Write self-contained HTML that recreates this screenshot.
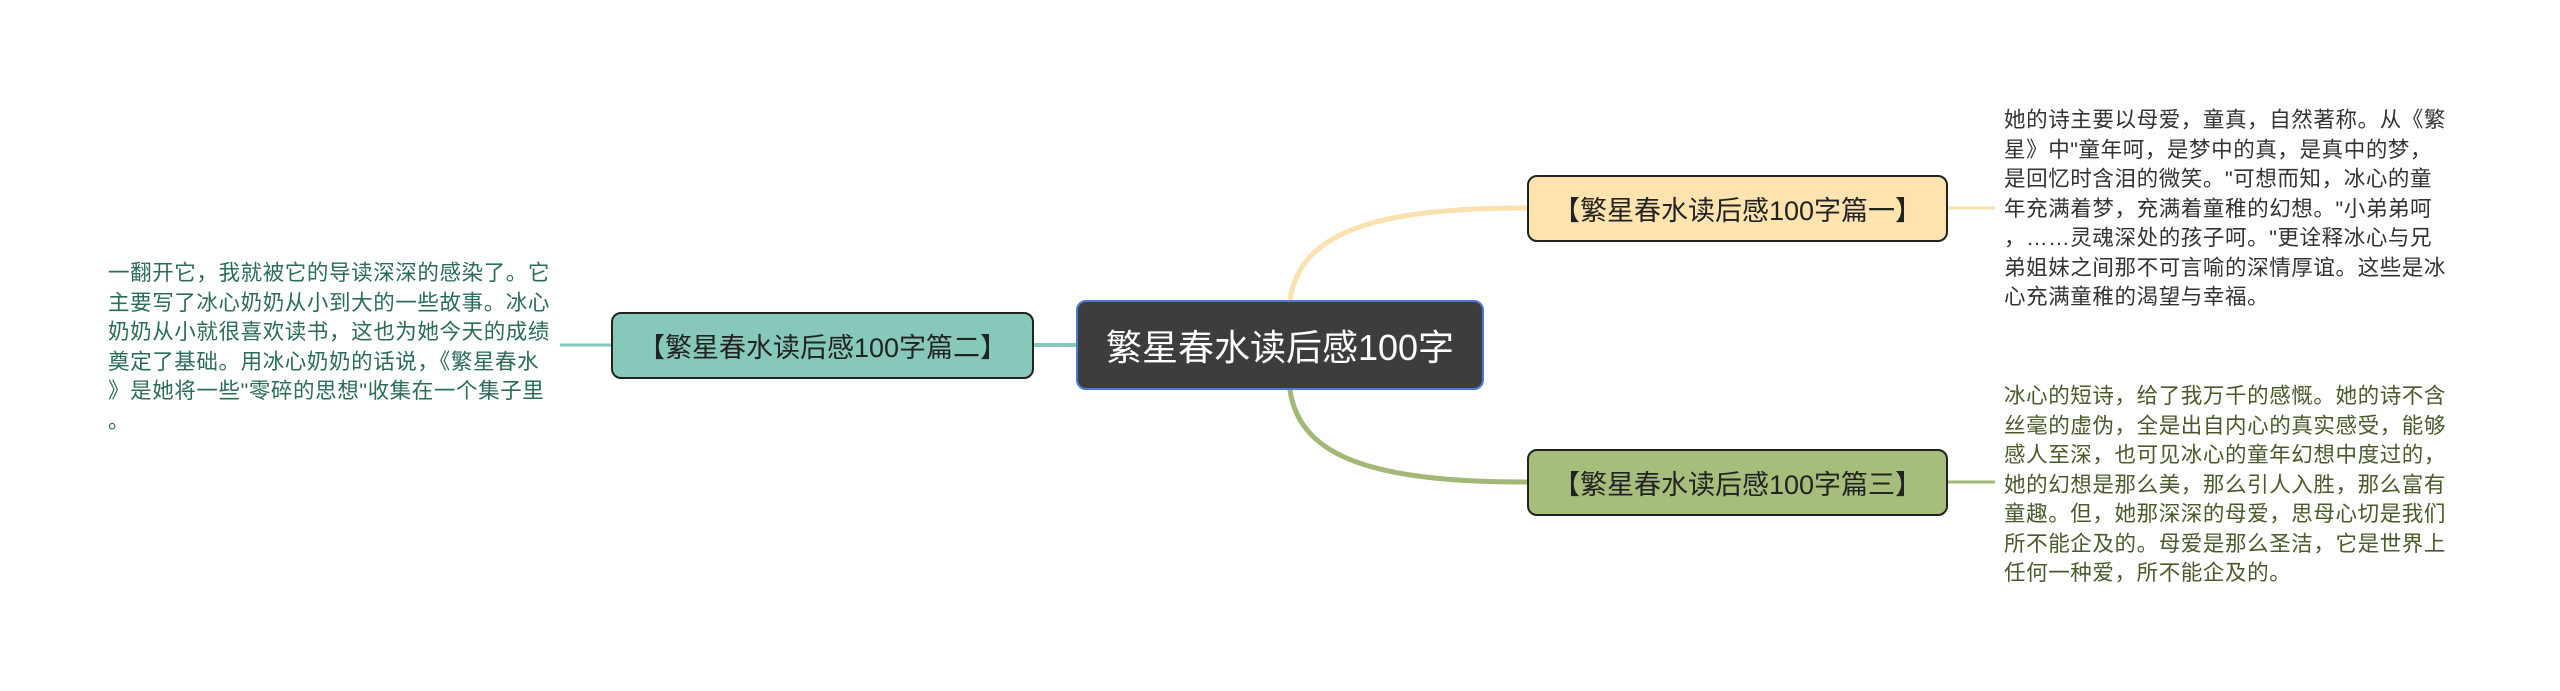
<!DOCTYPE html>
<html><head><meta charset="utf-8"><style>
html,body{margin:0;padding:0;background:#fff;}
body{width:2560px;height:691px;position:relative;overflow:hidden;font-family:"Liberation Sans","Noto Sans CJK SC",sans-serif;}
.node{position:absolute;box-sizing:border-box;border:2px solid #222;border-radius:10px;display:flex;align-items:center;justify-content:center;font-size:27px;color:#222;white-space:nowrap;}
.txt{position:absolute;font-size:21.5px;line-height:29.5px;white-space:nowrap;letter-spacing:0.6px;}
</style></head><body>
<svg width="2560" height="691" style="position:absolute;left:0;top:0">
<path d="M1290 300 C1300 230,1380 208,1527 208" stroke="#f9e2b0" stroke-width="5" fill="none"/>
<path d="M1290 390 C1300 460,1380 482,1527 482" stroke="#a3b877" stroke-width="5" fill="none"/>
<line x1="1034" y1="345" x2="1076" y2="345" stroke="#86c9bb" stroke-width="4"/>
<line x1="560" y1="345" x2="611" y2="345" stroke="#86c9bb" stroke-width="3"/>
<line x1="1948" y1="208" x2="1995" y2="208" stroke="#f9e2b0" stroke-width="3"/>
<line x1="1948" y1="482" x2="1995" y2="482" stroke="#a3b877" stroke-width="3"/>
</svg>
<div class="node" style="left:1076px;top:300px;width:408px;height:90px;background:#3d3d3d;border:2px solid #4a7bd0;color:#fff;font-size:36px;">繁星春水读后感100字</div>
<div class="node" style="left:611px;top:312px;width:423px;height:67px;background:#86c9bb;">【繁星春水读后感100字篇二】</div>
<div class="node" style="left:1527px;top:175px;width:421px;height:67px;background:#fde3ae;">【繁星春水读后感100字篇一】</div>
<div class="node" style="left:1527px;top:449px;width:421px;height:67px;background:#a7bd7c;">【繁星春水读后感100字篇三】</div>
<div class="txt" style="left:108px;top:259px;color:#2a6b5a;">一翻开它，我就被它的导读深深的感染了。它<br>主要写了冰心奶奶从小到大的一些故事。冰心<br>奶奶从小就很喜欢读书，这也为她今天的成绩<br>奠定了基础。用冰心奶奶的话说，《繁星春水<br>》是她将一些"零碎的思想"收集在一个集子里<br>。</div>
<div class="txt" style="left:2004px;top:106px;color:#333;">她的诗主要以母爱，童真，自然著称。从《繁<br>星》中"童年呵，是梦中的真，是真中的梦，<br>是回忆时含泪的微笑。"可想而知，冰心的童<br>年充满着梦，充满着童稚的幻想。"小弟弟呵<br>，……灵魂深处的孩子呵。"更诠释冰心与兄<br>弟姐妹之间那不可言喻的深情厚谊。这些是冰<br>心充满童稚的渴望与幸福。</div>
<div class="txt" style="left:2004px;top:382px;color:#4a5a2a;">冰心的短诗，给了我万千的感慨。她的诗不含<br>丝毫的虚伪，全是出自内心的真实感受，能够<br>感人至深，也可见冰心的童年幻想中度过的，<br>她的幻想是那么美，那么引人入胜，那么富有<br>童趣。但，她那深深的母爱，思母心切是我们<br>所不能企及的。母爱是那么圣洁，它是世界上<br>任何一种爱，所不能企及的。</div>
</body></html>
